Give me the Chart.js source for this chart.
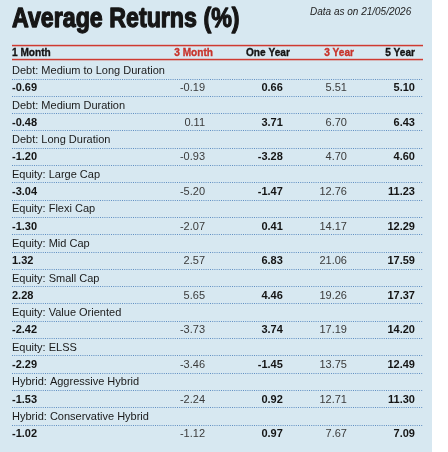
<!DOCTYPE html>
<html><head><meta charset="utf-8">
<script src="https://cdn.jsdelivr.net/npm/chart.js@4.4.1/dist/chart.umd.min.js"></script>
<style>html,body{margin:0;padding:0;background:#fff;}canvas{display:block;}</style>
</head><body>
<canvas id="c" width="448" height="452"></canvas>
<script>
// ---- data ----
const titleText = 'Average Returns (%)';
const dateNote = 'Data as on 21/05/2026';
const columns = ['1 Month', '3 Month', 'One Year', '3 Year', '5 Year'];
const categories = ['Debt: Medium to Long Duration', 'Debt: Medium Duration', 'Debt: Long Duration',
  'Equity: Large Cap', 'Equity: Flexi Cap', 'Equity: Mid Cap', 'Equity: Small Cap',
  'Equity: Value Oriented', 'Equity: ELSS', 'Hybrid: Aggressive Hybrid', 'Hybrid: Conservative Hybrid'];
const oneMonth   = [-0.69, -0.48, -1.20, -3.04, -1.30, 1.32, 2.28, -2.42, -2.29, -1.53, -1.02];
const threeMonth = [-0.19, 0.11, -0.93, -5.20, -2.07, 2.57, 5.65, -3.73, -3.46, -2.24, -1.12];
const oneYear    = [0.66, 3.71, -3.28, -1.47, 0.41, 6.83, 4.46, 3.74, -1.45, 0.92, 0.97];
const threeYear  = [5.51, 6.70, 4.70, 12.76, 14.17, 21.06, 19.26, 17.19, 13.75, 12.71, 7.67];
const fiveYear   = [5.10, 6.43, 4.60, 11.23, 12.29, 17.59, 17.37, 14.20, 12.49, 11.30, 7.09];
const seriesValues = [oneMonth, threeMonth, oneYear, threeYear, fiveYear];

// ---- layout / style (scale units) ----
const valueAnchor  = [0, 0.4696, 0.659, 0.815, 0.9805];
const headerAnchor = [0, 0.489, 0.676, 0.832, 0.9805];
const headerRow = -1.05;
const ruleRows = [-1.45, -0.65];
const FONT = '"Liberation Sans", Arial, sans-serif';
const RED = '#c8332b';
const headerColors = ['#141414', RED, '#141414', RED, '#141414'];
const boldCols = [true, false, true, false, true];

const datasets = [{
  label: 'categories',
  data: categories.map((c, i) => ({ x: 0, y: 2 * i })),
  pointRadius: 0
}].concat(seriesValues.map((arr, c) => ({
  label: columns[c],
  data: arr.map((v, i) => ({ x: valueAnchor[c], y: 2 * i + 1 })),
  pointRadius: 0
})));

const tablePlugin = {
  id: 'tableText',
  beforeDraw(chart) {
    const ctx = chart.ctx;
    ctx.save();
    ctx.fillStyle = '#d7e8f1';
    ctx.fillRect(0, 0, 432, chart.height);
    ctx.restore();
  },
  afterDraw(chart) {
    const ctx = chart.ctx;
    const xs = chart.scales.x, ys = chart.scales.y;
    const left = chart.chartArea.left, right = chart.chartArea.right;
    ctx.save();
    // red rules
    ctx.fillStyle = '#cf3a31';
    ruleRows.forEach(v => {
      const py = Math.round(ys.getPixelForValue(v));
      ctx.fillRect(left, py - 0.2, right - left, 1.5);
    });
    // title
    ctx.fillStyle = '#161616';
    ctx.strokeStyle = '#161616';
    ctx.textBaseline = 'alphabetic';
    ctx.textAlign = 'left';
    ctx.save();
    ctx.translate(left, 27);
    ctx.scale(0.86, 1);
    ctx.font = 'bold 27px ' + FONT;
    ctx.lineWidth = 1.3;
    ctx.lineJoin = 'round';
    ctx.fillText(titleText, 0, 0);
    ctx.strokeText(titleText, 0, 0);
    ctx.restore();
    // date note
    ctx.font = 'italic 10px ' + FONT;
    ctx.fillStyle = '#222';
    ctx.fillText(dateNote, 310, 14.5);
    // header
    const hy = ys.getPixelForValue(headerRow);
    ctx.textBaseline = 'middle';
    columns.forEach((h, c) => {
      ctx.save();
      const ax = xs.getPixelForValue(headerAnchor[c]);
      ctx.translate(ax, hy + 0.5);
      ctx.scale(0.88, 1);
      ctx.font = 'bold 11.5px ' + FONT;
      ctx.fillStyle = headerColors[c];
      ctx.strokeStyle = headerColors[c];
      ctx.lineWidth = 0.35;
      ctx.textAlign = c === 0 ? 'left' : 'right';
      ctx.fillText(h, 0, 0);
      ctx.strokeText(h, 0, 0);
      ctx.restore();
    });
    // category labels
    const catMeta = chart.getDatasetMeta(0);
    ctx.font = '11px ' + FONT;
    ctx.fillStyle = '#1a1a1a';
    ctx.textAlign = 'left';
    catMeta.data.forEach((el, i) => {
      ctx.fillText(categories[i], el.x, el.y + 0.5);
    });
    // values
    seriesValues.forEach((arr, c) => {
      const meta = chart.getDatasetMeta(c + 1);
      ctx.font = (boldCols[c] ? 'bold ' : '') + '11px ' + FONT;
      ctx.fillStyle = boldCols[c] ? '#141414' : '#3a3a3a';
      ctx.textAlign = c === 0 ? 'left' : 'right';
      meta.data.forEach((el, i) => {
        ctx.fillText(arr[i].toFixed(2), el.x, el.y + 0.5);
      });
    });
    ctx.restore();
  }
};

new Chart(document.getElementById('c'), {
  type: 'scatter',
  data: { datasets },
  options: {
    responsive: false,
    animation: false,
    events: [],
    layout: { padding: { left: 12, right: 25, top: 35.8, bottom: 1 } },
    plugins: { legend: { display: false }, tooltip: { enabled: false }, title: { display: false } },
    scales: {
      x: { type: 'linear', min: 0, max: 1, display: false },
      y: {
        type: 'linear', min: -2, max: 22, reverse: true,
        afterBuildTicks(scale) {
          const t = [];
          for (let k = 0; k <= 20; k++) t.push({ value: k + 0.5 });
          scale.ticks = t;
        },
        ticks: { display: false },
        border: { display: false, dash: [1, 1.2] },
        grid: {
          drawTicks: false,
          color: '#5f8ec2',
          lineWidth: 1
        }
      }
    }
  },
  plugins: [tablePlugin]
});
</script>
</body></html>
